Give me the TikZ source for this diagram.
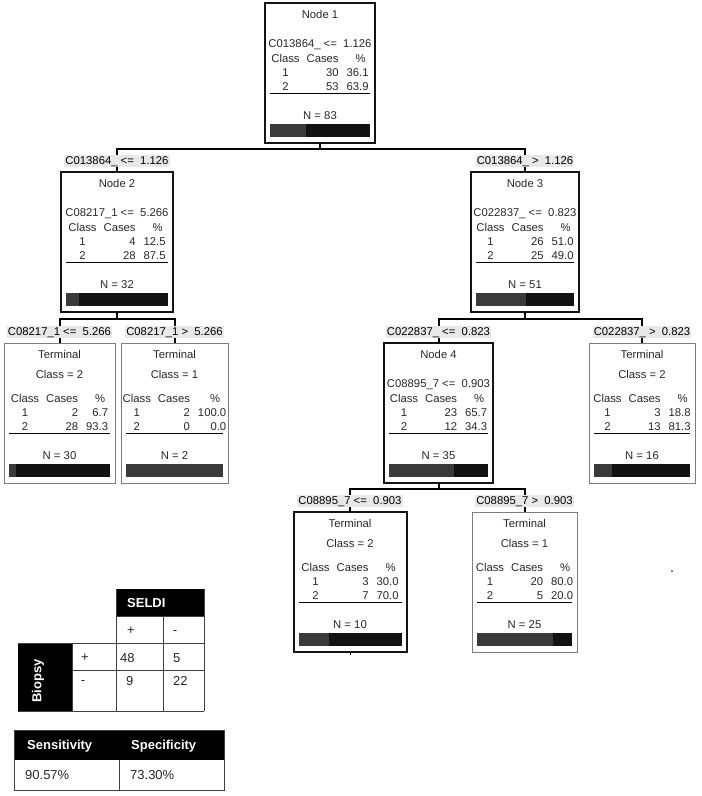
\documentclass[tikz,border=0pt]{standalone}
\usepackage{fontspec}
\setmainfont{Liberation Sans}
\usepackage{tikz}
\usetikzlibrary{calc,positioning}
\definecolor{cartedge}{RGB}{20,20,20}
\definecolor{cartthin}{RGB}{125,125,125}
\definecolor{cartone}{RGB}{58,58,58}
\definecolor{carttwo}{RGB}{18,18,18}
\definecolor{cartlbl}{RGB}{232,232,232}
\definecolor{carttxt}{RGB}{40,40,40}
\tikzset{
  heavy/.style={draw=cartedge, line width=2pt, minimum height=140pt, inner sep=0pt, outer sep=0pt},
  light/.style={draw=cartthin, line width=1pt, minimum height=140pt, inner sep=0pt, outer sep=0pt},
  txt/.style={font=\fontsize{11.3}{14}\selectfont, text=carttxt, inner sep=0pt, anchor=base},
  tab/.style={font=\fontsize{11.3}{14}\selectfont, text=carttxt, inner sep=0pt},
  cond/.style={font=\fontsize{11.3}{14}\selectfont, fill=cartlbl, inner xsep=1pt, inner ysep=0pt,
    text height=9pt, text depth=3pt},
  conn/.style={draw=black, line width=2pt},
  hrule/.style={draw=black, line width=1pt},
  grid/.style={draw=black!75, line width=0.8pt},
  tbhd/.style={font=\fontsize{13}{15}\selectfont\bfseries, text=white, inner sep=0pt},
  tbtx/.style={font=\fontsize{13}{15}\selectfont, text=black!85, inner sep=0pt}
}
% box of the tree: style, name, top centre, width, title, second line, rows, N, share of class 1
\newcommand{\cartbox}[9]{%
  \node[#1, minimum width=#4pt, anchor=north] (#2) at (#3) {};
  \node[txt] (#2-title) at ($(#2.north)+(0,15)$) {#5};
  \node[txt] (#2-sec) at ($(#2.north)+(0,\lsec)$) {#6};
  \node[tab] (#2-tab) at ($(#2.north)+(0,70.5)$)
    {\begin{tabular}{@{}c@{\hspace{7pt}}r@{\hspace{8pt}}r@{}}Class & Cases & \multicolumn{1}{c@{}}{\%}\\ #7\end{tabular}};
  \draw[hrule] ($(#2.north west)+(5,90)$) -- ($(#2.north east)+(-5,90)$);
  \node[txt] (#2-n) at ($(#2.north)+(0,116)$) {N = #8};
  \fill[carttwo] ($(#2.north west)+(5,121)$) rectangle ($(#2.north east)+(-5,134)$);
  \fill[cartone] ($(#2.north west)+(5,121)$) rectangle ($(#2.north west)+({5+#9*(#4-10)/100},134)$);
}
\newcommand{\splitnode}{\def\lsec{44}\cartbox}
\newcommand{\termnode}{\def\lsec{35}\cartbox}

\begin{document}
\begin{tikzpicture}[x=1pt,y=-1pt]
  \useasboundingbox (0,0) rectangle (702,796);

  % tree
  \splitnode{heavy}{n1}{320,3}{110}{Node 1}{C013864\_ <= ~1.126}{1 & 30 & 36.1\\ 2 & 53 & 63.9}{83}{36.1}
  \splitnode{heavy}{n2}{117,172}{112}{Node 2}{C08217\_1 <= ~5.266}{1 & 4 & 12.5\\ 2 & 28 & 87.5}{32}{12.5}
  \splitnode{heavy}{n3}{525,172}{108}{Node 3}{C022837\_ <= ~0.823}{1 & 26 & 51.0\\ 2 & 25 & 49.0}{51}{51.0}
  \termnode{light}{t1}{59.5,343}{111}{Terminal}{Class = 2}{1 & 2 & 6.7\\ 2 & 28 & 93.3}{30}{6.7}
  \termnode{light}{t2}{174.5,343}{107}{Terminal}{Class = 1}{1 & 2 & 100.0\\ 2 & 0 & 0.0}{2}{100}
  \splitnode{heavy}{n4}{438.5,343}{109}{Node 4}{C08895\_7 <= ~0.903}{1 & 23 & 65.7\\ 2 & 12 & 34.3}{35}{65.7}
  \termnode{light}{t3}{642,343}{106}{Terminal}{Class = 2}{1 & 3 & 18.8\\ 2 & 13 & 81.3}{16}{18.8}
  \termnode{heavy}{t4}{350,512}{113}{Terminal}{Class = 2}{1 & 3 & 30.0\\ 2 & 7 & 70.0}{10}{30.0}
  \termnode{light}{t5}{524.5,512}{105}{Terminal}{Class = 1}{1 & 20 & 80.0\\ 2 & 5 & 20.0}{25}{80.0}

  \draw[conn] (n1.south) -- ++(0,6) coordinate (j1) -| (n2.north);
  \draw[conn] (j1) -| (n3.north);
  \draw[conn] (n2.south) -- ++(0,7) coordinate (j2) -| (t1.north);
  \draw[conn] (j2) -| (t2.north);
  \draw[conn] (n3.south) -- ++(0,7) coordinate (j3) -| (n4.north);
  \draw[conn] (j3) -| (t3.north);
  \draw[conn] (n4.south) -- ++(0,6) coordinate (j4) -| (t4.north);
  \draw[conn] (j4) -| (t5.north);
  \draw[conn, line width=1pt] (t4.south) -- ++(0,3);

  \node[cond] (c2) at ($(n2.north)+(0,-11)$) {C013864\_ <= ~1.126};
  \node[cond] (c3) at ($(n3.north)+(0,-11)$) {C013864\_ > ~1.126};
  \node[cond] (ct1) at ($(t1.north)+(0,-11)$) {C08217\_1 <= ~5.266};
  \node[cond] (ct2) at ($(t2.north)+(0,-11)$) {C08217\_1 > ~5.266};
  \node[cond] (c4) at ($(n4.north)+(0,-11)$) {C022837\_ <= ~0.823};
  \node[cond] (ct3) at ($(t3.north)+(0,-11)$) {C022837\_ > ~0.823};
  \node[cond] (ct4) at ($(t4.north)+(0,-11)$) {C08895\_7 <= ~0.903};
  \node[cond] (ct5) at ($(t5.north)+(0,-11)$) {C08895\_7 > ~0.903};

  \fill[black!80] (672,571) circle (1pt);

  % SELDI / biopsy table
  \fill[black] (116,589) rectangle (204,616);
  \fill[black] (18,643) rectangle (72,711);
  \draw[grid] (116,589) -- (116,711) (163,616) -- (163,711) (204,589) -- (204,711) (72,643) -- (72,711);
  \draw[grid] (116,616) -- (204,616) (18,643) -- (204,643) (72,670) -- (204,670) (18,711) -- (204,711);
  \node[tbhd, anchor=base west] (seldi) at (127,607) {SELDI};
  \node[tbhd, rotate=90] (biopsy) at (38,681) {Biopsy};
  \node[tbtx, anchor=base] (sp) at (131,634) {+};
  \node[tbtx, anchor=base] (sm) at (175,634) {-};
  \node[tbtx, anchor=base] (bp) at (85,661) {+};
  \node[tbtx, anchor=base] (bm) at (83,684) {-};
  \node[tbtx, anchor=base west] (pp) at (120,662) {48};
  \node[tbtx, anchor=base west] (pm) at (173,662) {5};
  \node[tbtx, anchor=base west] (mp) at (126,685) {9};
  \node[tbtx, anchor=base west] (mm) at (173,685) {22};

  % sensitivity / specificity
  \fill[black] (14,730) rectangle (224,760);
  \draw[grid] (14,730) rectangle (224,790) (119,760) -- (119,790);
  \node[tbhd, anchor=base west] (sens) at (27,749) {Sensitivity};
  \node[tbhd, anchor=base west] (spec) at (131,749) {Specificity};
  \node[tbtx, anchor=base west] (sensv) at (25,779) {90.57\%};
  \node[tbtx, anchor=base west] (specv) at (130,779) {73.30\%};
\end{tikzpicture}
\end{document}
